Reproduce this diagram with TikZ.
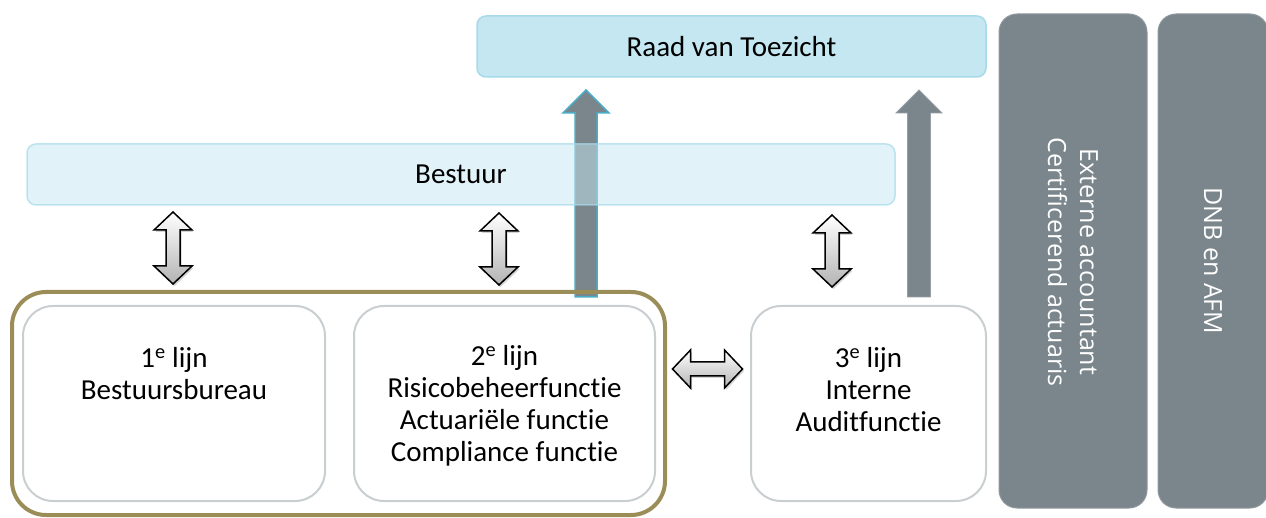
\documentclass[tikz,border=0pt]{standalone}
\usepackage{fontspec}
\setmainfont{Carlito}[Ligatures=NoCommon]
\newfontfamily\panelfont{Open Sans}
\usetikzlibrary{calc,shadows}
\definecolor{raadfill}{HTML}{C4E7F1}
\definecolor{raadline}{HTML}{A6DAEA}
\definecolor{bestfill}{HTML}{C4E7F1}
\definecolor{bestline}{HTML}{A6DAEA}
\definecolor{panelgrey}{HTML}{7B868C}
\definecolor{olive}{HTML}{9A8D57}
\definecolor{boxline}{HTML}{C9CED1}
\definecolor{arrowblue}{HTML}{4BACC6}
\tikzset{
  txt/.style={font=\fontsize{29}{32}\selectfont, align=center, inner sep=0pt},
  bar/.style={rounded corners=9pt, line width=1.5pt, inner sep=0pt},
  linebox/.style={draw=boxline, line width=2pt, fill=white, rounded corners=30pt, inner sep=0pt},
  panel/.style={fill=panelgrey, draw=panelgrey!85!white, line width=1pt, rounded corners=18pt, inner sep=0pt},
  paneltxt/.style={text=white, font=\panelfont\fontsize{25}{32}\selectfont, align=center, rotate=-90, inner sep=0pt},
  dblarrow/.style={draw=black, line width=1.5pt, line join=miter, top color=white, bottom color=gray!60,
    drop shadow={shadow xshift=1.5pt, shadow yshift=-2pt, opacity=0.35}},
  uparrow/.style={fill=panelgrey, line width=1.5pt, line join=miter}
}
\begin{document}
\begin{tikzpicture}[x=1pt,y=-1pt]
\useasboundingbox (0,0) rectangle (1266,518);

% top bar
\node[bar, fill=raadfill, draw=raadline, minimum width=509pt, minimum height=61pt] (raad) at (731.5,46.5) {};
\node[txt] (raadtxt) at (raad.center) {Raad van Toezicht};

% up arrows (behind Bestuur)
\coordinate (a1b) at (586,297);
\coordinate (a1t) at (586,90);
\draw[uparrow, draw=arrowblue] ($(a1b)+(-11,0)$) -- ($(a1t)+(-11,23)$) -- ($(a1t)+(-23,23)$) -- (a1t)
  -- ($(a1t)+(23,23)$) -- ($(a1t)+(11,23)$) -- ($(a1b)+(11,0)$) -- cycle;
\coordinate (a2b) at (919,297);
\coordinate (a2t) at (919,90);
\draw[uparrow, draw=panelgrey!80!white, line width=0.8pt] ($(a2b)+(-11.5,0)$) -- ($(a2t)+(-11.5,23)$) -- ($(a2t)+(-23,23)$) -- (a2t)
  -- ($(a2t)+(23,23)$) -- ($(a2t)+(11.5,23)$) -- ($(a2b)+(11.5,0)$) -- cycle;

% Bestuur bar (semi transparent)
\node[bar, fill=bestfill, fill opacity=0.5, draw=bestline, draw opacity=0.7, minimum width=868pt, minimum height=61pt] (bestuur) at (461,174.5) {};
\node[txt] (besttxt) at (bestuur.center) {Bestuur};

% olive frame
\node[draw=olive, line width=4pt, rounded corners=34pt, minimum width=653pt, minimum height=223pt, inner sep=0pt] (frame) at (338.5,403.5) {};

% line boxes
\node[linebox, minimum width=302pt, minimum height=195pt] (box1) at (174,403.5) {};
\node[linebox, minimum width=301pt, minimum height=195pt] (box2) at (504.5,403.5) {};
\node[linebox, minimum width=235pt, minimum height=195pt] (box3) at (868.5,403.5) {};

\node[txt] (t1) at ($(box1.north)+(0,69)$) {1\textsuperscript{e} lijn\\Bestuursbureau};
\node[txt] (t2) at ($(box2.north)+(0,101)$) {2\textsuperscript{e} lijn\\Risicobeheerfunctie\\Actuariële functie\\Compliance functie};
\node[txt] (t3) at ($(box3.north)+(0,85)$) {3\textsuperscript{e} lijn\\Interne\\Auditfunctie};

% right panels
\node[panel, minimum width=148pt, minimum height=494pt] (pa) at (1073,261) {};
\node[paneltxt] (pat) at ($(pa.center)+(0,1)$) {Externe accountant\\Certificerend actuaris};
\node[panel, minimum width=110pt, minimum height=494pt] (pb) at (1213,261) {};
\node[paneltxt] (pbt) at (pb.center) {DNB en AFM};

% vertical double arrows
\coordinate (d1) at (173,248);
\coordinate (d2) at (499,249);
\coordinate (d3) at (832,251);
\foreach \c in {d1,d2,d3}{
  \draw[dblarrow] ($(\c)+(0,-36)$) -- ($(\c)+(19,-18)$) -- ($(\c)+(7,-18)$) -- ($(\c)+(7,18)$) -- ($(\c)+(19,18)$)
    -- ($(\c)+(0,36)$) -- ($(\c)+(-19,18)$) -- ($(\c)+(-7,18)$) -- ($(\c)+(-7,-18)$) -- ($(\c)+(-19,-18)$) -- cycle;
}
% horizontal double arrow
\coordinate (h) at (707.5,369);
\draw[dblarrow] ($(h)+(-35,0)$) -- ($(h)+(-17,-19)$) -- ($(h)+(-17,-7)$) -- ($(h)+(17,-7)$) -- ($(h)+(17,-19)$)
  -- ($(h)+(35,0)$) -- ($(h)+(17,19)$) -- ($(h)+(17,7)$) -- ($(h)+(-17,7)$) -- ($(h)+(-17,19)$) -- cycle;
\end{tikzpicture}
\end{document}
